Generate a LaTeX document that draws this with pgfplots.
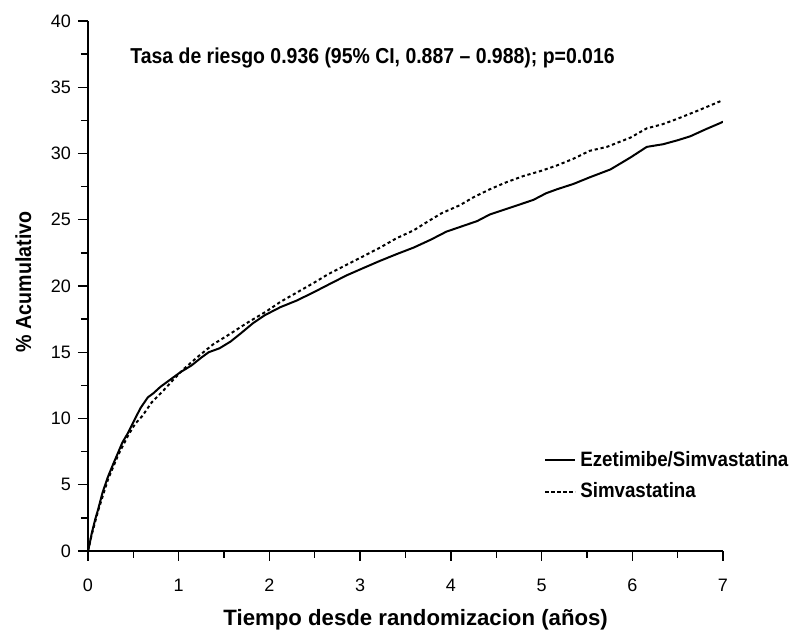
\documentclass[border=0pt]{standalone}
\usepackage{fontspec}
\setmainfont{Liberation Sans}
\newfontfamily\cond[FakeStretch=0.9]{Liberation Sans}
\usepackage{pgfplots}
\pgfplotsset{compat=1.18}

\begin{document}
\begin{tikzpicture}
\useasboundingbox (0,0) rectangle (400pt,319pt);
\begin{axis}[
  at={(44pt,43.5pt)}, anchor=south west,
  scale only axis, width=317.5pt, height=265pt,
  xmin=0, xmax=7, ymin=0, ymax=40,
  axis x line=bottom, axis y line=left,
  axis line style={-, line width=0.9pt},
  xtick={0,1,...,7}, ytick={0,5,...,40},
  minor x tick num=1, minor y tick num=1,
  tick align=outside,
  major tick length=5pt, minor tick length=3.5pt,
  tick style={black, line width=0.7pt},
  /pgf/number format/assume math mode=true,
  ticklabel style={font=\fontsize{9}{10}\selectfont},
  xticklabel style={yshift=-5.5pt},
  xlabel={Tiempo desde randomizacion (años)},
  ylabel={\% Acumulativo},
  xlabel style={at={(axis description cs:0.516,-0.130)}, anchor=center,
    font=\bfseries\fontsize{11.1}{13}\selectfont},
  ylabel style={at={(axis description cs:-0.102,0.508)}, anchor=center,
    font=\cond\bfseries\fontsize{10.9}{13}\selectfont},
  legend style={at={(axis description cs:0.718,0.1415)}, anchor=west,
    draw=none, fill=none, inner sep=0pt, row sep=2.5pt,
    font=\cond\bfseries\fontsize{10.4}{12}\selectfont},
  legend cell align=left,
  legend image code/.code={\draw[#1] (0pt,0pt) -- (15pt,0pt);},
]
\addplot[black, line width=1pt] coordinates {
(0,0) (0.02,0.6) (0.04,1.3) (0.08,2.4) (0.11,3.1) (0.16,4.4) (0.22,5.6)
(0.28,6.6) (0.33,7.4) (0.38,8.2) (0.44,8.9) (0.52,10.0) (0.58,10.8)
(0.66,11.6) (0.72,11.9) (0.80,12.4) (0.92,13.0) (1.02,13.5) (1.14,14.0)
(1.25,14.6) (1.33,15.0) (1.45,15.3) (1.57,15.8) (1.68,16.4) (1.82,17.2)
(1.95,17.8) (2.12,18.4) (2.30,18.9) (2.48,19.5) (2.65,20.1) (2.85,20.8)
(3.05,21.4) (3.22,21.9) (3.40,22.4) (3.59,22.9) (3.78,23.5) (3.95,24.1)
(4.12,24.5) (4.29,24.9) (4.43,25.4) (4.65,25.9) (4.91,26.5) (5.05,27.0)
(5.17,27.3) (5.35,27.7) (5.53,28.2) (5.76,28.8) (5.98,29.7) (6.16,30.5)
(6.34,30.7) (6.50,31.0) (6.64,31.3) (6.80,31.8) (6.97,32.3) (7.0,32.4)
};
\addlegendentry{Ezetimibe/Simvastatina}
\addplot[black, line width=1pt, dash pattern=on 1.6pt off 1.4pt] coordinates {
(0,0) (0.04,1.2) (0.11,3.0) (0.22,5.4) (0.33,7.2) (0.44,8.7) (0.52,9.6)
(0.60,10.2) (0.70,11.2) (0.83,12.1) (0.95,13.0) (1.05,13.7) (1.20,14.6)
(1.38,15.6) (1.57,16.4) (1.75,17.2) (1.97,18.1) (2.12,18.8) (2.30,19.5)
(2.48,20.2) (2.65,20.9) (2.85,21.6) (3.05,22.3) (3.22,22.9) (3.40,23.6)
(3.59,24.2) (3.73,24.8) (3.90,25.5) (4.10,26.1) (4.25,26.7) (4.43,27.3)
(4.60,27.8) (4.80,28.3) (5.00,28.7) (5.17,29.1) (5.35,29.6) (5.53,30.2)
(5.72,30.5) (5.98,31.2) (6.16,31.9) (6.33,32.2) (6.49,32.6) (6.71,33.2)
(6.85,33.6) (6.99,34.0)
};
\addlegendentry{Simvastatina}
\node[anchor=west, inner sep=0pt, font=\cond\bfseries\fontsize{10.8}{12}\selectfont]
  at (axis cs:0.463,37.2) {Tasa de riesgo 0.936 (95\% CI, 0.887 – 0.988); p=0.016};
\end{axis}
\end{tikzpicture}
\end{document}
